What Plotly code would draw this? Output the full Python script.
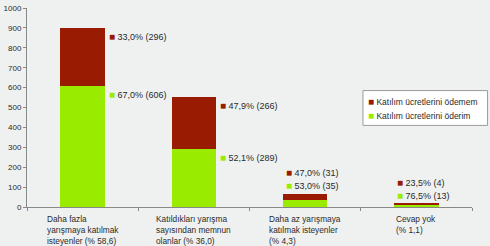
import plotly.graph_objects as go

categories = ["c1", "c2", "c3", "c4"]
tick_labels = [
    "Daha fazla<br>yarışmaya katılmak<br>isteyenler (% 58,6)",
    "Katıldıkları yarışma<br>sayısından memnun<br>olanlar (% 36,0)",
    "Daha az yarışmaya<br>katılmak isteyenler<br>(% 4,3)",
    "Cevap yok<br>(% 1,1)",
]
pay_values = [606, 289, 35, 13]
nopay_values = [296, 266, 31, 4]
pay_pct = ["67,0%", "52,1%", "53,0%", "76,5%"]
nopay_pct = ["33,0%", "47,9%", "47,0%", "23,5%"]
series_names = ["Katılım ücretlerini öderim", "Katılım ücretlerini ödemem"]

RED = "#991b02"
GREEN = "#99ec00"
FONT = "Liberation Sans, Arial, sans-serif"
TXT = "#2a2a2a"

fig = go.Figure()
fig.add_trace(go.Bar(x=categories, y=pay_values, name=series_names[0],
                     marker=dict(color=GREEN, line=dict(width=0)), width=0.4))
fig.add_trace(go.Bar(x=categories, y=nopay_values, name=series_names[1],
                     marker=dict(color=RED, line=dict(width=0)), width=0.4))


def sq(color):
    return f'<span style="color:{color};font-size:10px">■</span>'


annotations = []
for i, c in enumerate(categories):
    total = pay_values[i] + nopay_values[i]
    red_txt = f'{sq(RED)} {nopay_pct[i]} ({nopay_values[i]})'
    green_txt = f'{sq(GREEN)} {pay_pct[i]} ({pay_values[i]})'
    if total > 100:
        annotations.append(dict(x=c, y=total, xref="x", yref="y", text=red_txt,
                                showarrow=False, xanchor="left", yanchor="middle",
                                xshift=24, yshift=-9))
        annotations.append(dict(x=c, y=pay_values[i], xref="x", yref="y", text=green_txt,
                                showarrow=False, xanchor="left", yanchor="middle",
                                xshift=24, yshift=-8))
    else:
        annotations.append(dict(x=c, y=total, xref="x", yref="y", text=red_txt,
                                showarrow=False, xanchor="left", yanchor="middle",
                                xshift=-21, yshift=21))
        annotations.append(dict(x=c, y=total, xref="x", yref="y", text=green_txt,
                                showarrow=False, xanchor="left", yanchor="middle",
                                xshift=-21, yshift=8))
    annotations.append(dict(x=c, y=0, xref="x", yref="paper", text=tick_labels[i],
                            showarrow=False, xanchor="center", yanchor="top", align="left",
                            yshift=-5, font=dict(size=8.3, color=TXT)))

# legend drawn as a compact box
legend_rows = [(series_names[1], RED), (series_names[0], GREEN)]
for k, (name, col) in enumerate(legend_rows):
    annotations.append(dict(x=0.762, y=0.528 - k * 0.07, xref="paper", yref="paper",
                            text=f'{sq(col)} {name}', showarrow=False,
                            xanchor="left", yanchor="middle",
                            font=dict(size=8.5, color=TXT)))

fig.update_layout(
    barmode="stack",
    width=490, height=246,
    margin=dict(l=27, r=18, t=8, b=39, autoexpand=False),
    paper_bgcolor="#eff1f1",
    plot_bgcolor="#eff1f1",
    font=dict(family=FONT, size=9, color=TXT),
    showlegend=False,
    annotations=annotations,
    shapes=[dict(type="rect", xref="paper", yref="paper",
                 x0=0.755, x1=1.035, y0=0.41, y1=0.585,
                 fillcolor="white", line=dict(color="#9a9a9a", width=1), layer="below")],
    xaxis=dict(showticklabels=False, showline=True, linecolor="#888", linewidth=1,
               ticks="outside", ticklen=3, tickcolor="#888", tickson="boundaries",
               showgrid=False, zeroline=False, automargin=False),
    yaxis=dict(range=[0, 1000], dtick=100, showline=True, linecolor="#888", linewidth=1,
               ticks="outside", ticklen=3, tickcolor="#888", showgrid=False,
               zeroline=False, tickfont=dict(size=8), automargin=False),
)

fig.write_html("out.html")
